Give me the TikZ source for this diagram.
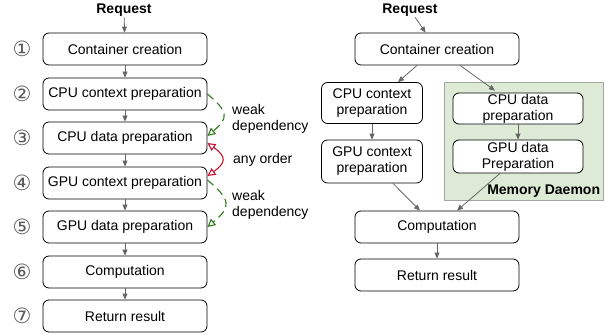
\documentclass[tikz,border=0pt]{standalone}
\usepackage{fontspec}
\setmainfont{Liberation Sans}
\newfontfamily\circfont{DejaVu Sans}
\usetikzlibrary{arrows.meta}

\definecolor{flowgray}{HTML}{666666}
\definecolor{weakgreen}{HTML}{2E7A1C}
\definecolor{orderred}{HTML}{C41230}
\definecolor{daemonfill}{HTML}{DDEAD5}
\definecolor{daemonline}{HTML}{A3A3A3}

\begin{document}
\begin{tikzpicture}[x=1pt, y=-1pt, font=\fontsize{14}{16}\selectfont,
    box/.style={draw, line width=0.8pt, fill=white, rounded corners=6pt, minimum width=164pt, minimum height=32pt, inner sep=0pt, align=center},
    smallbox/.style={box, minimum width=101pt, minimum height=41pt},
    innerbox/.style={box, minimum width=130pt, minimum height=32pt},
    head/.style={font=\fontsize{14}{16}\selectfont\bfseries, inner sep=1pt},
    num/.style={font=\fontsize{21}{21}\circfont, text=black!65, inner sep=0pt},
    flow/.style={draw=flowgray, line width=0.8pt, -{Triangle[length=6pt, width=5pt]}},
    weak/.style={draw=weakgreen, line width=1.1pt, dash pattern=on 8pt off 5pt, -{Triangle[open, length=8pt, width=8pt]}},
    order/.style={draw=orderred, line width=1.1pt, {Triangle[open, length=8pt, width=8pt]}-{Triangle[open, length=8pt, width=8pt]}},
    note/.style={anchor=west, align=left, inner sep=0pt}]

    \useasboundingbox (0,0) rectangle (607,334);

    % Left: sequential steps
    \node[head] (req1) at (124,10) {Request};
    \node[box] (c1) at (125,49) {Container creation};
    \node[box] (c2) at (125,94) {CPU context preparation};
    \node[box] (c3) at (125,138) {CPU data preparation};
    \node[box] (c4) at (125,183) {GPU context preparation};
    \node[box] (c5) at (125,227) {GPU data preparation};
    \node[box] (c6) at (125,272) {Computation};
    \node[box] (c7) at (125,316) {Return result};

    % Step numbers
    \node[num] (n1) at (22,49) {①};
    \node[num] (n2) at (22,94) {②};
    \node[num] (n3) at (22,138) {③};
    \node[num] (n4) at (22,183) {④};
    \node[num] (n5) at (22,227) {⑤};
    \node[num] (n6) at (22,272) {⑥};
    \node[num] (n7) at (22,316) {⑦};

    \draw[flow] (req1) -- (c1);
    \draw[flow] (c1) -- (c2);
    \draw[flow] (c2) -- (c3);
    \draw[flow] (c3) -- (c4);
    \draw[flow] (c4) -- (c5);
    \draw[flow] (c5) -- (c6);
    \draw[flow] (c6) -- (c7);

    % Dependencies between steps
    \draw[weak] (c2.east) to[bend left=50, looseness=1.7] ([yshift=2pt]c3.east);
    \draw[order] ([yshift=-5pt]c3.east) to[bend left=55, looseness=1.8] ([yshift=7pt]c4.east);
    \draw[weak] ([yshift=3pt]c4.east) to[bend left=50, looseness=1.7] (c5.east);

    \node[note] (w1) at (232,118.5) {weak\\dependency};
    \node[note] (ao) at (233,160) {any order};
    \node[note] (w2) at (232,205) {weak\\dependency};

    % Right: with memory daemon
    \node[draw=daemonline, fill=daemonfill, line width=0.6pt, minimum width=159pt, minimum height=118pt, inner sep=0pt] (mem) at (523.5,141) {};
    \node[head, anchor=south east] (meml) at ([xshift=-2pt, yshift=2pt]mem.south east) {Memory Daemon};

    \node[head] (req2) at (410,10) {Request};
    \node[box] (k1) at (437,49) {Container creation};
    \node[smallbox] (k2) at (372,103) {CPU context\\preparation};
    \node[smallbox, minimum height=43pt] (k3) at (372,161.5) {GPU context\\preparation};
    \node[innerbox, minimum height=31pt] (d1) at (518,108.5) {CPU data\\preparation};
    \node[innerbox, minimum height=33pt] (d2) at (518,156.5) {GPU data\\Preparation};
    \node[box] (k5) at (437,227) {Computation};
    \node[box] (k6) at (437,275) {Return result};

    \draw[flow] (req2) -- (k1);
    \draw[flow] ([xshift=-20pt]k1.south) -- ([xshift=26pt]k2.north);
    \draw[flow] ([xshift=23pt]k1.south) -- ([xshift=-23pt, yshift=2pt]d1.north);
    \draw[flow] (k2) -- (k3);
    \draw[flow] (d1) -- (d2);
    \draw[flow] ([xshift=21pt]k3.south) -- ([xshift=-17pt]k5.north);
    \draw[flow] ([xshift=-18pt]d2.south) -- ([xshift=20pt]k5.north);
    \draw[flow] (k5) -- (k6);

\end{tikzpicture}
\end{document}
